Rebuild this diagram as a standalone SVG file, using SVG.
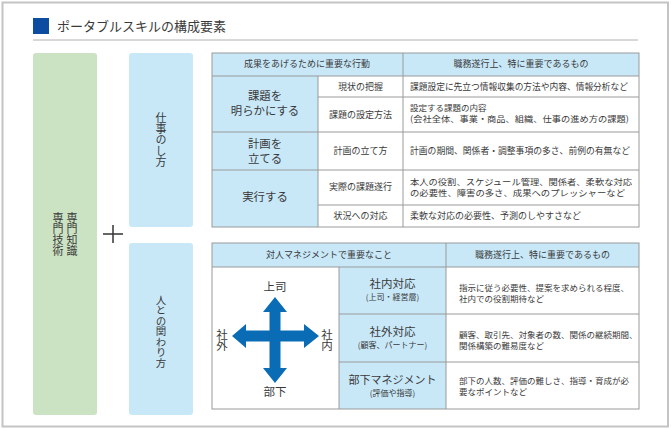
<svg xmlns="http://www.w3.org/2000/svg" width="671" height="429" viewBox="0 0 671 429">
<defs>
<style>
text{font-family:"Noto Sans CJK JP","Noto Sans",sans-serif;fill:#3a3a3a}
.t9{font-size:9px}
.t85{font-size:8.5px}
.t8{font-size:8px}
.t12{font-size:11.4px}
.mid{text-anchor:middle}
.vert{writing-mode:vertical-rl;text-anchor:middle}
.blue{fill:#c8e8f8}
.grid{stroke:#9a9a9a;stroke-width:1;fill:none}
.arrow{fill:#0b6cb6}
</style>
</defs>
<rect x="0" y="0" width="671" height="429" fill="#fff"/>
<rect x="2.5" y="2.5" width="665.5" height="424" fill="none" stroke="#c4c4c4" stroke-width="2"/>
<g id="title">
<rect x="33" y="18" width="16" height="16" fill="#0c4da2"/>
<text x="57" y="30.5" style="font-size:13px">ポータブルスキルの構成要素</text>
<line x1="33" y1="40" x2="638" y2="40" stroke="#b0b0b0" stroke-width="1"/>
</g>
<g id="senmon">
<rect x="33" y="53" width="64" height="362" rx="3" fill="#cbe2c3"/>
<text class="vert" x="72" y="234" style="font-size:11px">専門知識</text>
<text class="vert" x="58" y="234" style="font-size:11px">専門技術</text>
</g>
<g id="plus">
<line x1="103" y1="234" x2="123" y2="234" stroke="#333" stroke-width="1.5"/>
<line x1="113" y1="225" x2="113" y2="243" stroke="#333" stroke-width="1.5"/>
</g>
<g id="shigoto">
<rect x="129" y="53" width="64" height="174" rx="3" fill="#c8e8f8"/>
<text class="vert" x="161" y="140" style="font-size:11px;letter-spacing:0.2px">仕事のし方</text>
</g>
<g id="hito">
<rect x="129" y="243" width="64" height="172" rx="3" fill="#c8e8f8"/>
<text class="vert" x="161" y="331.5" style="font-size:10.5px">人との関わり方</text>
</g>
<g id="table-work">
<rect x="212" y="53" width="427" height="174" fill="#fff"/>
<rect x="212" y="53" width="427" height="23" class="blue"/>
<rect x="212" y="76" width="106" height="151" class="blue"/>
<g class="grid">
<rect x="212" y="53" width="427" height="174"/>
<line x1="212" y1="76" x2="639" y2="76"/>
<line x1="318" y1="76" x2="318" y2="227"/>
<line x1="403" y1="53" x2="403" y2="227"/>
<line x1="318" y1="97" x2="639" y2="97"/>
<line x1="212" y1="132" x2="639" y2="132"/>
<line x1="212" y1="170" x2="639" y2="170"/>
<line x1="318" y1="205" x2="639" y2="205"/>
</g>
<text class="t9 mid" x="307" y="67.2">成果をあげるために重要な行動</text>
<text class="t9 mid" x="521" y="67.2">職務遂行上、特に重要であるもの</text>
<text class="t12 mid"><tspan x="265" y="99.6">課題を</tspan><tspan x="265" y="114.6">明らかにする</tspan></text>
<text class="t12 mid"><tspan x="265" y="147.6">計画を</tspan><tspan x="265" y="162.6">立てる</tspan></text>
<text class="t12 mid" x="265" y="201.2">実行する</text>
<text class="t9 mid" x="360.5" y="90.2">現状の把握</text>
<text class="t9 mid" x="360.5" y="118.2">課題の設定方法</text>
<text class="t9 mid" x="360.5" y="154.2">計画の立て方</text>
<text class="t9 mid" x="360.5" y="190.2">実際の課題遂行</text>
<text class="t9 mid" x="360.5" y="219.2">状況への対応</text>
<text class="t9" x="410" y="90.2" textLength="218" lengthAdjust="spacingAndGlyphs">課題設定に先立つ情報収集の方法や内容、情報分析など</text>
<text class="t85"><tspan x="410" y="111">設定する課題の内容</tspan><tspan x="410" y="121.7" textLength="219" lengthAdjust="spacingAndGlyphs">(会社全体、事業・商品、組織、仕事の進め方の課題)</tspan></text>
<text class="t9" x="410" y="154.2" textLength="220" lengthAdjust="spacingAndGlyphs">計画の期間、関係者・調整事項の多さ、前例の有無など</text>
<text class="t85"><tspan x="410" y="185" textLength="222" lengthAdjust="spacingAndGlyphs">本人の役割、スケジュール管理、関係者、柔軟な対応</tspan><tspan x="410" y="195.7" textLength="215" lengthAdjust="spacingAndGlyphs">の必要性、障害の多さ、成果へのプレッシャーなど</tspan></text>
<text class="t9" x="410" y="219.2">柔軟な対応の必要性、予測のしやすさなど</text>
</g>
<g id="table-people">
<rect x="212" y="243" width="427" height="166" fill="#fff"/>
<rect x="212" y="243" width="427" height="24" class="blue"/>
<rect x="339" y="267" width="107" height="142" class="blue"/>
<g class="grid">
<rect x="212" y="243" width="427" height="166"/>
<line x1="212" y1="267" x2="639" y2="267"/>
<line x1="339" y1="267" x2="339" y2="409"/>
<line x1="446" y1="243" x2="446" y2="409"/>
<line x1="339" y1="314" x2="639" y2="314"/>
<line x1="339" y1="362" x2="639" y2="362"/>
</g>
<text class="t9 mid" x="329" y="258.2">対人マネジメントで重要なこと</text>
<text class="t9 mid" x="542.5" y="258.2">職務遂行上、特に重要であるもの</text>
<text class="mid"><tspan x="392.5" y="288.4" style="font-size:11.5px">社内対応</tspan><tspan class="t8" x="392.5" y="300">(上司・経営層)</tspan></text>
<text class="mid"><tspan x="392.5" y="336.4" style="font-size:11.5px">社外対応</tspan><tspan class="t8" x="392.5" y="348">(顧客、パートナー)</tspan></text>
<text class="mid"><tspan x="392.5" y="384.3" style="font-size:11px">部下マネジメント</tspan><tspan class="t8" x="392.5" y="395.7">(評価や指導)</tspan></text>
<text class="t85"><tspan x="459" y="291.2">指示に従う必要性、提案を求められる程度、</tspan><tspan x="459" y="301.7">社内での役割期待など</tspan></text>
<text class="t85"><tspan x="459" y="338.2">顧客、取引先、対象者の数、関係の継続期間、</tspan><tspan x="459" y="348.7">関係構築の難易度など</tspan></text>
<text class="t85"><tspan x="459" y="384.2">部下の人数、評価の難しさ、指導・育成が必</tspan><tspan x="459" y="394.7">要なポイントなど</tspan></text>
</g>
<g id="cross">
<path class="arrow" d="M275 297 L287 312 L280.5 312 L280.5 330.5 L304 330.5 L304 324 L319 336 L304 348 L304 341.5 L280.5 341.5 L280.5 368 L287 368 L275 383 L263 368 L269.5 368 L269.5 341.5 L246 341.5 L246 348 L232 336 L246 324 L246 330.5 L269.5 330.5 L269.5 312 L263 312 Z"/>
<text class="mid" x="275" y="291" style="font-size:11.5px">上司</text>
<text class="mid" x="275" y="396" style="font-size:11.5px">部下</text>
<text class="vert" x="222" y="340" style="font-size:11.5px">社外</text>
<text class="vert" x="327" y="340" style="font-size:11.5px">社内</text>
</g>
</svg>
